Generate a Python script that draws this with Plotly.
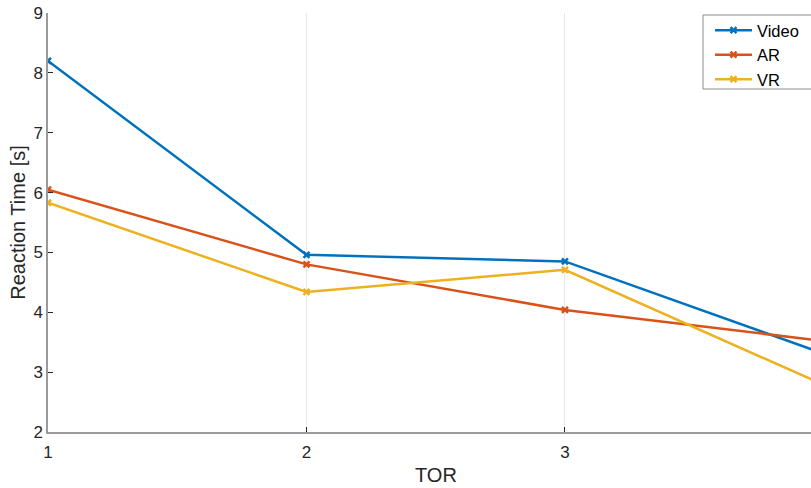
import plotly.graph_objects as go

# Mean reaction time per take-over request (TOR) for each display condition
tor = [1, 2, 3, 4]
video = [8.20, 4.96, 4.85, 3.31]
ar = [6.05, 4.80, 4.04, 3.52]
vr = [5.83, 4.34, 4.71, 2.79]

series = [
    ("Video", video, "#0072BD"),
    ("AR", ar, "#D95319"),
    ("VR", vr, "#EDB120"),
]

font_family = "Liberation Sans, Arial, sans-serif"
text_color = "#262626"

# pixel geometry of the plotting area
W, H = 811, 488
ML, MR, MT, MB = 48, 0, 13, 56
PW, PH = W - ML - MR, H - MT - MB


def px_x(px):
    return (px - ML) / PW


def px_y(py):
    return (H - MB - py) / PH


fig = go.Figure()
for name, values, color in series:
    fig.add_trace(go.Scatter(
        x=tor, y=values, name=name, mode="lines+markers",
        line=dict(color=color, width=2.5),
        marker=dict(symbol="x-thin", size=6, line=dict(color=color, width=2.5)),
        cliponaxis=True,
    ))

fig.update_layout(
    width=W, height=H,
    margin=dict(l=ML, r=MR, t=MT, b=MB, autoexpand=False),
    plot_bgcolor="white", paper_bgcolor="white",
    font=dict(family=font_family, size=17, color=text_color),
    showlegend=True,
    legend=dict(
        x=px_x(710), y=px_y(13), xanchor="left", yanchor="top",
        borderwidth=0, bgcolor="rgba(0,0,0,0)",
        font=dict(size=16.5, color="black"),
        tracegroupgap=0, itemwidth=37,
    ),
    xaxis=dict(
        range=[1, 3.952], tickvals=[1, 2, 3], ticktext=["1", "2", "3"],
        showgrid=True, gridcolor="#e8e8e8", gridwidth=1,
        showline=True, linecolor="#9a9a9a", linewidth=1.5,
        ticks="inside", ticklen=5, tickcolor="#262626", tickwidth=1,
        zeroline=False, tickfont=dict(size=17, color=text_color),
        ticklabelstandoff=4,
    ),
    yaxis=dict(
        range=[2, 9], tickvals=[2, 3, 4, 5, 6, 7, 8, 9],
        showgrid=False,
        showline=True, linecolor="#9a9a9a", linewidth=1.5,
        ticks="inside", ticklen=5, tickcolor="#262626", tickwidth=1,
        zeroline=False, tickfont=dict(size=17, color=text_color),
        title=dict(text="Reaction Time [s]", font=dict(size=20, color=text_color), standoff=2),
    ),
)

# legend frame, running past the right edge of the figure
fig.add_shape(
    type="rect", xref="paper", yref="paper",
    x0=px_x(703), x1=px_x(W + 30), y0=px_y(89), y1=px_y(15),
    line=dict(color="#8c8c8c", width=1), fillcolor="white", layer="below",
)

# x-axis title centred over the full TOR span (1 to 4)
fig.add_annotation(
    x=2.5, xref="x", y=px_y(475), yref="paper",
    text="TOR", showarrow=False, yanchor="middle",
    font=dict(size=20, color=text_color),
)

fig.write_html("out.html")
